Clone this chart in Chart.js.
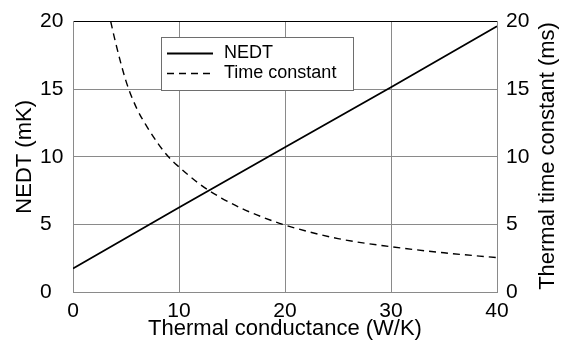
<!DOCTYPE html>
<html>
<head>
<meta charset="utf-8">
<script src="https://cdn.jsdelivr.net/npm/chart.js@4"></script>
<style>
html,body{margin:0;padding:0;background:#fff;}
</style>
</head>
<body>
<canvas id="c" width="569" height="348"></canvas>
<script>
// NEDT (mK) against thermal conductance (W/K)
const nedtG=[0,10,20,30,40];
const nedtVals=[1.74,6.25,10.7,15.15,19.65];
// thermal time constant (ms) against thermal conductance
const tauG=[3.56,4,5,6,7,8,9,10,12,14,16,18,20,25,30,35,40];
const tauVals=[20,18.5,15.6,13.6,12.2,11.0,10.0,9.25,7.95,6.95,6.15,5.5,4.95,3.95,3.35,2.9,2.54];

const xTicks=[0,10,20,30,40];
const yTicks=[0,5,10,15,20];
const y2Ticks=[0,5,10,15,20];
const seriesLabels=['NEDT','Time constant'];
const xTitle='Thermal conductance (W/K)';
const yTitle='NEDT (mK)';
const y2Title='Thermal time constant (ms)';

const FONT='"Liberation Sans", Arial, sans-serif';
Chart.defaults.font.family=FONT;
Chart.defaults.color='#000';

const gridGray='#8a8a8a';

// legend box drawn inside the plot
const boxLegend={
  id:'boxLegend',
  afterDraw(chart){
    const ctx=chart.ctx;
    ctx.save();
    ctx.fillStyle='#fff';
    ctx.fillRect(162,38,191,52);
    ctx.strokeStyle='#6e6e6e';
    ctx.lineWidth=1;
    ctx.strokeRect(161.5,37.5,192,53);
    const rows=[53,73];
    chart.data.datasets.forEach((ds,i)=>{
      ctx.beginPath();
      ctx.strokeStyle=ds.borderColor;
      ctx.lineWidth=ds.borderWidth;
      ctx.setLineDash(ds.borderDash||[]);
      ctx.moveTo(167,rows[i]+0.5);
      ctx.lineTo(i===0?213:210,rows[i]+0.5);
      ctx.stroke();
      ctx.setLineDash([]);
      ctx.fillStyle='#000';
      ctx.font='18px '+FONT;
      ctx.textAlign='left';
      ctx.textBaseline='middle';
      ctx.fillText(ds.label,224,rows[i]);
    });
    ctx.restore();
  }
};

// right-hand axis title reads bottom to top
const rightTitle={
  id:'rightTitle',
  afterDraw(chart){
    const ctx=chart.ctx;
    ctx.save();
    ctx.translate(548,156);
    ctx.rotate(-Math.PI/2);
    ctx.font='22px '+FONT;
    ctx.fillStyle='#000';
    ctx.textAlign='center';
    ctx.textBaseline='middle';
    ctx.fillText(y2Title,0,0);
    ctx.restore();
  }
};

new Chart(document.getElementById('c'),{
  type:'line',
  data:{
    datasets:[
      {label:seriesLabels[0],data:nedtG.map((g,i)=>({x:g,y:nedtVals[i]})),
       borderColor:'#000',borderWidth:1.8,pointRadius:0,yAxisID:'y',tension:0},
      {label:seriesLabels[1],data:tauG.map((g,i)=>({x:g,y:tauVals[i]})),
       borderColor:'#000',borderWidth:1.4,borderDash:[7,5],pointRadius:0,yAxisID:'y2',
       cubicInterpolationMode:'monotone'}
    ]
  },
  options:{
    responsive:false,
    animation:false,
    devicePixelRatio:1,
    layout:{padding:{top:15,left:40,right:0,bottom:0}},
    plugins:{legend:{display:false},tooltip:{enabled:false}},
    scales:{
      x:{
        type:'linear',min:0,max:40,
        afterBuildTicks:s=>{s.ticks=xTicks.map(v=>({value:v}));},
        afterFit:s=>{s.height=56;},
        grid:{color:gridGray,lineWidth:1,drawTicks:false},
        border:{color:gridGray},
        ticks:{font:{size:21},padding:7,maxRotation:0},
        title:{display:true,text:xTitle,font:{size:22},padding:{top:0,bottom:6}}
      },
      y:{
        position:'left',min:0,max:20,
        afterBuildTicks:s=>{s.ticks=yTicks.map(v=>({value:v}));},
        afterFit:s=>{s.width=33;},
        grid:{color:c=>c.tick&&c.tick.value===20?'#000':gridGray,lineWidth:1,drawTicks:false},
        border:{color:gridGray},
        ticks:{font:{size:21},crossAlign:'far',padding:8},
        title:{display:true,text:yTitle,font:{size:22},padding:{top:-27.8,bottom:0}}
      },
      y2:{
        position:'right',min:0,max:20,
        afterBuildTicks:s=>{s.ticks=y2Ticks.map(v=>({value:v}));},
        afterFit:s=>{s.width=72;},
        grid:{display:false,drawTicks:false},
        border:{color:gridGray},
        ticks:{font:{size:21},padding:9},
        title:{display:false,text:y2Title}
      }
    }
  },
  plugins:[boxLegend,rightTitle]
});
</script>
</body>
</html>
